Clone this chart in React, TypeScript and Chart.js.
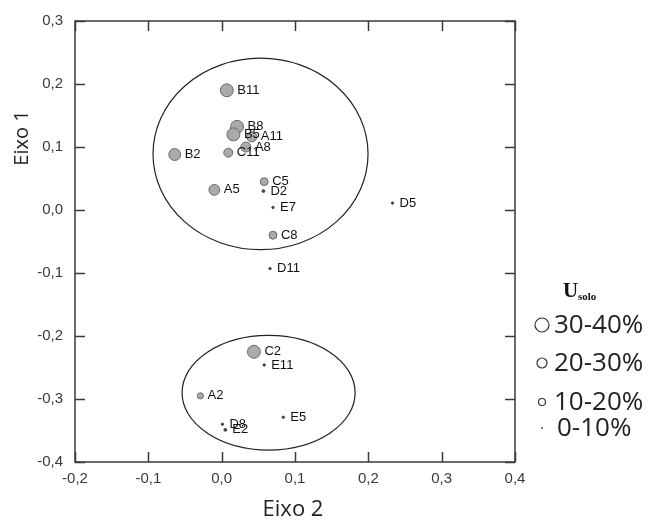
import { useEffect, useRef } from 'react';
import { Chart, registerables } from 'chart.js';
Chart.register(...registerables);

// ---- data ----
const pointLabels = ['B11', 'B8', 'B5', 'A11', 'A8', 'C11', 'B2', 'A5', 'C5', 'D2', 'E7', 'C8', 'D11', 'D5', 'C2', 'E11', 'A2', 'E5', 'D8', 'E2'];
const eixo2 = [0.007, 0.021, 0.016, 0.041, 0.033, 0.009, -0.064, -0.010, 0.058, 0.057, 0.070, 0.070, 0.066, 0.233, 0.044, 0.058, -0.029, 0.084, 0.001, 0.005];
const eixo1 = [0.190, 0.132, 0.120, 0.116, 0.100, 0.091, 0.088, 0.032, 0.045, 0.030, 0.004, -0.040, -0.093, 0.011, -0.225, -0.246, -0.295, -0.329, -0.340, -0.349];
const usolo = [36, 36, 36, 28, 28, 25, 33, 30, 22, 8, 5, 22, 5, 5, 36, 5, 17, 5, 5, 8];

// groups (ellipses): center x, center y, radius x, radius y (data units)
const ellipseCx = [0.053, 0.064];
const ellipseCy = [0.089, -0.29];
const ellipseRx = [0.1466, 0.118];
const ellipseRy = [0.152, 0.091];

const legendLabels = ['30-40%', '20-30%', '10-20%', '0-10%'];

const xMin = -0.2, xMax = 0.4, yMin = -0.4, yMax = 0.3;

const fmt = (v: number) => (Math.abs(v) < 1e-9 ? 0 : v).toFixed(1).replace('.', ',');
const radiusOf = (u: number) => Math.max(1.2, u * 0.18);

const overlay = {
  id: 'overlay',
  beforeDatasetsDraw(chart: any) {
    const ctx = chart.ctx;
    const xs = chart.scales.x, ys = chart.scales.y;
    ctx.save();
    ctx.strokeStyle = '#222';
    ctx.lineWidth = 1.2;
    for (let i = 0; i < ellipseCx.length; i++) {
      const cx = xs.getPixelForValue(ellipseCx[i]);
      const cy = ys.getPixelForValue(ellipseCy[i]);
      const rx = Math.abs(xs.getPixelForValue(ellipseCx[i] + ellipseRx[i]) - cx);
      const ry = Math.abs(ys.getPixelForValue(ellipseCy[i] + ellipseRy[i]) - cy);
      ctx.beginPath();
      ctx.ellipse(cx, cy, rx, ry, 0, 0, Math.PI * 2);
      ctx.stroke();
    }
    ctx.restore();
  },
  afterDatasetsDraw(chart: any) {
    const ctx = chart.ctx;
    const meta = chart.getDatasetMeta(0);
    ctx.save();
    ctx.fillStyle = '#111';
    ctx.font = '13px "Liberation Sans", Arial, sans-serif';
    ctx.textBaseline = 'middle';
    ctx.textAlign = 'left';
    meta.data.forEach((el: any, i: number) => {
      const r = radiusOf(usolo[i]);
      const off = Math.max(r + 4, 7);
      ctx.fillText(pointLabels[i], el.x + off, el.y);
    });
    ctx.restore();
  },
  afterDraw(chart: any) {
    const ctx = chart.ctx;
    const a = chart.chartArea;
    const xs = chart.scales.x, ys = chart.scales.y;
    ctx.save();
    // box
    ctx.strokeStyle = '#3a3a3a';
    ctx.lineWidth = 1.5;
    ctx.strokeRect(a.left, a.top, a.right - a.left, a.bottom - a.top);
    // inward ticks
    const tl = 10;
    ctx.beginPath();
    xs.ticks.forEach((t: any) => {
      const px = Math.round(xs.getPixelForValue(t.value)) + 0.5;
      ctx.moveTo(px, a.bottom); ctx.lineTo(px, a.bottom - tl);
      ctx.moveTo(px, a.top); ctx.lineTo(px, a.top + tl);
    });
    ys.ticks.forEach((t: any) => {
      const py = Math.round(ys.getPixelForValue(t.value)) + 0.5;
      ctx.moveTo(a.left, py); ctx.lineTo(a.left + tl, py);
      ctx.moveTo(a.right, py); ctx.lineTo(a.right - tl, py);
    });
    ctx.stroke();

    // axis titles
    ctx.fillStyle = '#222';
    ctx.font = '22px "Open Sans", sans-serif';
    ctx.textAlign = 'center';
    ctx.textBaseline = 'alphabetic';
    ctx.fillText('Eixo 2', (a.left + a.right) / 2 - 2, 508);
    ctx.save();
    ctx.translate(14, 130);
    ctx.rotate(-Math.PI / 2);
    ctx.font = '20px "Open Sans", sans-serif';
    ctx.textBaseline = 'middle';
    ctx.fillText('Eixo 1', 0, 0);
    ctx.restore();

    // legend
    ctx.textAlign = 'left';
    ctx.textBaseline = 'alphabetic';
    ctx.fillStyle = '#111';
    ctx.font = 'bold 21px "Liberation Serif", "Times New Roman", serif';
    ctx.fillText('U', 555, 289);
    ctx.font = 'bold 11px "Liberation Serif", "Times New Roman", serif';
    ctx.fillText('solo', 570, 292);
    const ly = [317, 355, 394, 420];
    ctx.font = '26px "Open Sans", sans-serif';
    ctx.textBaseline = 'middle';
    legendLabels.forEach((lab, i) => {
      const r = i === 3 ? 1 : [7, 5, 3.5][i];
      ctx.beginPath();
      ctx.arc(534, ly[i], r, 0, Math.PI * 2);
      ctx.strokeStyle = '#333';
      ctx.lineWidth = 1.2;
      if (i === 3) { ctx.fillStyle = '#555'; ctx.fill(); } else ctx.stroke();
      ctx.fillStyle = '#222';
      ctx.fillText(lab, i === 3 ? 549 : 546, ly[i] + 1);
    });
    ctx.restore();
  },
};

export default function App() {
  const ref = useRef<HTMLCanvasElement | null>(null);
  useEffect(() => {
    if (!ref.current) return;
    const data = eixo2.map((x, i) => ({ x, y: eixo1[i] }));
    const chart = new Chart(ref.current, {
      type: 'scatter',
      data: {
        datasets: [{
          label: 'pontos',
          data,
          pointRadius: (c: any) => radiusOf(usolo[c.dataIndex]),
          pointBackgroundColor: (c: any) => (usolo[c.dataIndex] < 10 ? '#444' : '#aaaaaa'),
          pointBorderColor: (c: any) => (usolo[c.dataIndex] < 10 ? '#444' : '#6a6a6a'),
          pointBorderWidth: 1,
        }],
      },
      options: {
        animation: false,
        responsive: true,
        maintainAspectRatio: false,
        layout: { padding: { top: 13, right: 128, left: 0, bottom: 0 } },
        plugins: { legend: { display: false }, tooltip: { enabled: false } },
        scales: {
          x: {
            type: 'linear', min: xMin, max: xMax,
            grid: { display: false, drawTicks: false },
            border: { display: false },
            ticks: { stepSize: 0.1, padding: 8, color: '#3a3a3a', font: { size: 15, family: '"Liberation Sans", Arial, sans-serif' }, callback: (v: any) => fmt(Number(v)), maxRotation: 0 },
            afterFit: (s: any) => { s.height = 58; s.paddingLeft = 0; s.paddingRight = 0; },
          },
          y: {
            type: 'linear', min: yMin, max: yMax,
            grid: { display: false, drawTicks: false },
            border: { display: false },
            ticks: { stepSize: 0.1, padding: 12, color: '#3a3a3a', font: { size: 15, family: '"Liberation Sans", Arial, sans-serif' }, callback: (v: any) => fmt(Number(v)) },
            afterFit: (s: any) => { s.width = 67; s.paddingTop = 0; s.paddingBottom = 0; },
          },
        },
      },
      plugins: [overlay],
    } as any);
    return () => chart.destroy();
  }, []);
  return (
    <div style={{ position: 'relative', width: 635, height: 512 }}>
      <canvas ref={ref} />
    </div>
  );
}
